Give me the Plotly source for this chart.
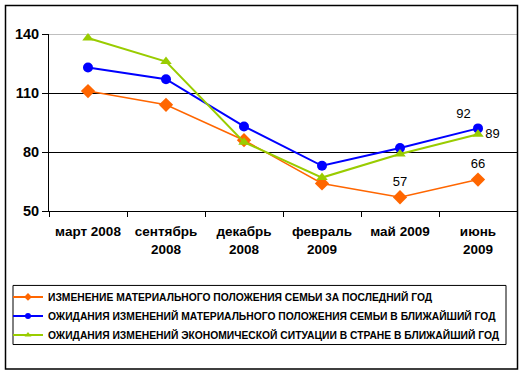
import plotly.graph_objects as go

categories = ["март 2008", "сентябрь<br>2008", "декабрь<br>2008", "февраль<br>2009", "май 2009", "июнь<br>2009"]
s1_name = "ИЗМЕНЕНИЕ МАТЕРИАЛЬНОГО ПОЛОЖЕНИЯ СЕМЬИ ЗА ПОСЛЕДНИЙ ГОД"
s2_name = "ОЖИДАНИЯ ИЗМЕНЕНИЙ МАТЕРИАЛЬНОГО ПОЛОЖЕНИЯ СЕМЬИ В БЛИЖАЙШИЙ ГОД"
s3_name = "ОЖИДАНИЯ ИЗМЕНЕНИЙ ЭКОНОМИЧЕСКОЙ СИТУАЦИИ В СТРАНЕ В БЛИЖАЙШИЙ ГОД"
s1 = [111, 104, 86, 64, 57, 66]
s2 = [123, 117, 93, 73, 82, 92]
s3 = [138, 126, 85, 67, 79, 89]
s1_labels = ["", "", "", "", "57", "66"]
s2_labels = ["", "", "", "", "", "92"]
s3_labels = ["", "", "", "", "", "89"]
y_ticks = [50, 80, 110, 140]

FONT = "Arial, Liberation Sans, sans-serif"

series = [
    (s1, s1_name, s1_labels, "top center", "#FF6600", 1.5, "diamond", 11),
    (s2, s2_name, s2_labels, "top left", "#0000FF", 2, "circle", 10),
    (s3, s3_name, s3_labels, "middle right", "#99CC00", 2, "triangle-up", 10),
]

fig = go.Figure()
for vals, name, labels, tpos, color, lw, sym, msize in series:
    fig.add_trace(go.Scatter(
        x=categories, y=vals, name=name, mode="lines+markers+text",
        text=labels, textposition=tpos,
        textfont=dict(family=FONT, size=13, color="black"),
        line=dict(color=color, width=lw),
        marker=dict(symbol=sym, size=msize, color=color),
        cliponaxis=False, showlegend=False,
    ))
# legend entries with small symbols, as in the reference
for vals, name, labels, tpos, color, lw, sym, msize in series:
    fig.add_trace(go.Scatter(
        x=[None], y=[None], name=name, mode="lines+markers",
        line=dict(color=color, width=2),
        marker=dict(symbol=sym, size=6, color=color),
        showlegend=True,
    ))

# top gridline is grey in the reference
fig.add_shape(type="line", xref="paper", yref="y", x0=0, x1=1, y0=140, y1=140,
              line=dict(color="#808080", width=1), layer="below")
# outer chart border
fig.add_shape(type="rect", xref="paper", yref="paper",
              x0=(5.5 - 49) / 468, x1=(517.5 - 49) / 468,
              y0=(210.7 - 368.5) / 176.7, y1=(210.7 - 5.5) / 176.7,
              line=dict(color="black", width=1.5), fillcolor="rgba(0,0,0,0)")
# legend border
fig.add_shape(type="rect", xref="paper", yref="paper",
              x0=(13 - 49) / 468, x1=(506 - 49) / 468,
              y0=(210.7 - 344) / 176.7, y1=(210.7 - 285) / 176.7,
              line=dict(color="black", width=1), fillcolor="rgba(0,0,0,0)")

fig.update_layout(
    width=524, height=374,
    margin=dict(l=49, r=7, t=34, b=163.3, autoexpand=False),
    paper_bgcolor="white", plot_bgcolor="white",
    font=dict(family=FONT, color="black"),
    showlegend=True,
    legend=dict(
        x=(8 - 49) / 468, y=(210.7 - 282) / 176.7, xanchor="left", yanchor="top",
        borderwidth=0, bgcolor="rgba(0,0,0,0)",
        font=dict(family=FONT, size=10.3, color="black", weight="bold"),
        itemwidth=30, tracegroupgap=0,
    ),
    xaxis=dict(
        type="category", categoryorder="array", categoryarray=categories,
        range=[-0.5, 5.5],
        showline=True, linecolor="black", linewidth=1,
        ticks="outside", tickson="boundaries", ticklen=5, tickcolor="black",
        showgrid=False, zeroline=False, ticklabelstandoff=8,
        tickfont=dict(family=FONT, size=13.5, color="black", weight="bold"),
    ),
    yaxis=dict(
        range=[50, 140], tickvals=y_ticks,
        showline=True, linecolor="black", linewidth=1,
        ticks="outside", ticklen=6, tickcolor="black",
        showgrid=True, gridcolor="black", gridwidth=1, zeroline=False,
        tickfont=dict(family=FONT, size=14.5, color="black", weight="bold"),
    ),
)

fig.write_html("out.html", config={"displayModeBar": False},
               post_script="document.body.style.margin='0';")
